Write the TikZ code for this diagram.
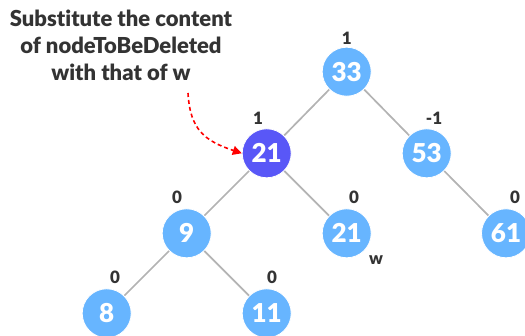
\documentclass[tikz,border=0pt]{standalone}
\usepackage{fontspec}
\setmainfont{Lato}[BoldFont={Lato Black}, Ligatures=NoCommon]
\usetikzlibrary{arrows.meta}
\definecolor{keyblue}{HTML}{67B5FF}
\definecolor{delblue}{HTML}{5957F7}
\definecolor{edgegray}{HTML}{B3B3B3}
\definecolor{inkgray}{HTML}{333333}
\tikzset{
  x=1pt, y=-1pt,
  treenode/.style={circle, fill=keyblue, draw=white, line width=0.8pt,
    minimum size=49pt, inner sep=0pt, text=white,
    font=\fontsize{26}{26}\selectfont\bfseries},
  delnode/.style={treenode, fill=delblue},
  bal/.style={text=inkgray, font=\fontsize{17}{17}\selectfont\bfseries, inner sep=0pt},
  edge/.style={draw=edgegray, line width=1.7pt},
  note/.style={text=inkgray, align=center, inner sep=0pt,
    font=\fontsize{22}{27}\selectfont\bfseries},
  hint/.style={draw=red, line width=1.6pt, dashed, dash pattern=on 4pt off 3pt,
    -{Triangle[length=9pt,width=9pt]}}
}
\begin{document}
\begin{tikzpicture}
\useasboundingbox (0,0) rectangle (525,336);

% tree edges (drawn first, under the nodes)
\coordinate (p33) at (346.7,71.7);
\coordinate (p21) at (266.7,153.3);
\coordinate (p53) at (426.7,153.3);
\coordinate (p9)  at (186.7,233.3);
\coordinate (p21w) at (346.7,233.3);
\coordinate (p61) at (506,233.3);
\coordinate (p8)  at (106.7,313.3);
\coordinate (p11) at (266.7,313.3);

\draw[edge] (p33) -- (p21) (p33) -- (p53)
            (p21) -- (p9) (p21) -- (p21w)
            (p53) -- (p61)
            (p9) -- (p8) (p9) -- (p11);

% nodes
\node[treenode] (n33) at (p33) {33};
\node[delnode]  (n21) at (p21) {21};
\node[treenode] (n53) at (p53) {53};
\node[treenode] (n9)  at (p9)  {9};
\node[treenode] (n21w) at (p21w) {21};
\node[treenode] (n61) at (p61) {61};
\node[treenode] (n8)  at (p8)  {8};
\node[treenode] (n11) at (p11) {11};

% balance factors
\node[bal] (b33) at (346.7,38) {1};
\node[bal] (b21) at (258,118) {1};
\node[bal] (b53) at (434,118) {-1};
\node[bal] (b9)  at (177,197) {0};
\node[bal] (b21w) at (354,197) {0};
\node[bal] (b61) at (515,197) {0};
\node[bal] (b8)  at (115,277) {0};
\node[bal] (b11) at (272,277) {0};

% successor label
\node[bal] (lw) at (376,260) {w};

% note with arrow to the node being replaced
\node[note] (txt) at (121,45) {Substitute the content\\of nodeToBeDeleted\\with that of w};
\coordinate (hs) at (188,93);
\draw[hint] (hs) .. controls (190,130) and (205,141) .. (n21.west);
\end{tikzpicture}
\end{document}
